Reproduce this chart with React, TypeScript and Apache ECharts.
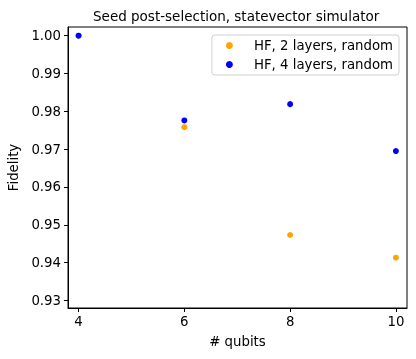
import React, { useEffect, useRef } from "react";
import * as echarts from "echarts";

const qubits = [4, 6, 8, 10];
const hf2Layers = [1.0, 0.9758, 0.9473, 0.9413];
const hf4Layers = [1.0, 0.9776, 0.9819, 0.9695];
const xTicks = [4, 6, 8, 10];
const yTicks = [0.93, 0.94, 0.95, 0.96, 0.97, 0.98, 0.99, 1.0];
const seriesNames = ["HF, 2 layers, random", "HF, 4 layers, random"];

const FONT = "DejaVu Sans";
const FS = 13.3;

export default function App() {
  const ref = useRef<HTMLDivElement>(null);
  useEffect(() => {
    if (!ref.current) return;
    const chart = echarts.init(ref.current, null, { renderer: "svg" });
    chart.setOption({
      animation: false,
      textStyle: { fontFamily: FONT },
      title: {
        text: "Seed post-selection, statevector simulator",
        left: 93,
        top: 9,
        padding: 0,
        textStyle: { fontFamily: FONT, fontSize: 13.5, fontWeight: "normal", color: "#000" },
      },
      grid: {
        left: 68,
        right: 9,
        top: 27,
        bottom: 51,
        outerBoundsMode: "none",
        containLabel: false,
        show: true,
        borderColor: "#000",
        borderWidth: 1,
        backgroundColor: "transparent",
      },
      legend: {
        orient: "vertical",
        right: 17,
        top: 35,
        padding: [4, 6, 4, 14],
        borderColor: "#d0d0d0",
        borderWidth: 1,
        borderRadius: 3,
        itemGap: 6,
        itemWidth: 7,
        itemHeight: 7,
        icon: "circle",
        textStyle: { fontFamily: FONT, fontSize: FS, color: "#000", padding: [0, 0, 0, 16] },
        data: seriesNames,
      },
      xAxis: {
        type: "value",
        min: 3.8,
        max: 10.21,
        name: "# qubits",
        nameLocation: "middle",
        nameGap: 27,
        nameTextStyle: { fontFamily: FONT, fontSize: FS, color: "#000" },
        axisLine: { show: true, lineStyle: { color: "#000", width: 1 } },
        axisTick: { show: true, customValues: xTicks, length: 4, lineStyle: { color: "#000" } },
        axisLabel: {
          customValues: xTicks,
          fontFamily: FONT,
          fontSize: FS,
          color: "#000",
          margin: 7,
        },
        splitLine: { show: false },
      },
      yAxis: {
        type: "value",
        min: 0.928,
        max: 1.0023,
        name: "Fidelity",
        nameLocation: "middle",
        nameGap: 48,
        nameRotate: 90,
        nameTextStyle: { fontFamily: FONT, fontSize: FS, color: "#000" },
        axisLine: { show: true, lineStyle: { color: "#000", width: 1 } },
        axisTick: { show: true, customValues: yTicks, length: 4, lineStyle: { color: "#000" } },
        axisLabel: {
          customValues: yTicks,
          fontFamily: FONT,
          fontSize: FS,
          color: "#000",
          margin: 7,
          formatter: (v: number) => v.toFixed(2),
        },
        splitLine: { show: false },
      },
      series: [
        {
          name: seriesNames[0],
          type: "scatter",
          symbolSize: 6,
          itemStyle: { color: "#FFA500", opacity: 1 },
          data: qubits.map((q, i) => [q, hf2Layers[i]]),
        },
        {
          name: seriesNames[1],
          type: "scatter",
          symbolSize: 6,
          itemStyle: { color: "#0000FF", opacity: 1 },
          data: qubits.map((q, i) => [q, hf4Layers[i]]),
        },
      ],
    });
    return () => chart.dispose();
  }, []);
  return (
    <div
      ref={ref}
      style={{ position: "fixed", left: 0, top: 0, width: 416, height: 359 }}
    />
  );
}
